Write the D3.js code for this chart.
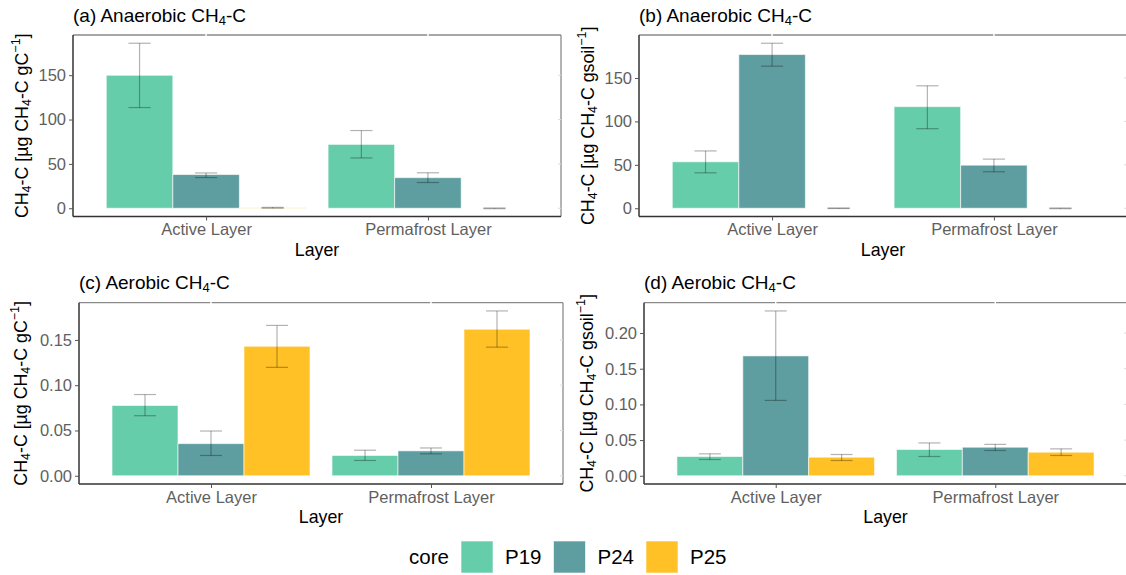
<!DOCTYPE html>
<html>
<head>
<meta charset="utf-8">
<script src="https://cdn.jsdelivr.net/npm/d3@7"></script>
<style>
  body { margin: 0; background: #fff; }
  text { font-family: "Liberation Sans", Arial, sans-serif; }
</style>
</head>
<body>
<div id="chart"></div>
<script>
// categories
var layers = ['Active Layer', 'Permafrost Layer'];
var cores = ['P19', 'P24', 'P25'];
var colors = ['#66CDAA', '#5F9EA0', '#FFC125'];

// (a) anaerobic, per gC  [layer][core]
var anaGcMean = [[149.9, 38.0, 0.5], [72.0, 34.5, 0.0]];
var anaGcLow  = [[113.5, 34.6, 0.0], [56.7, 29.0, -0.5]];
var anaGcHigh = [[186.0, 39.8, 1.0], [87.6, 40.0, 0.3]];

// (b) anaerobic, per gsoil
var anaGsMean = [[53.5, 177.0, 0.0], [117.0, 49.6, 0.0]];
var anaGsLow  = [[40.8, 163.6, -0.3], [91.6, 42.0, -0.5]];
var anaGsHigh = [[66.0, 190.0, 0.3], [141.0, 56.6, 0.3]];

// (c) aerobic, per gC
var aerGcMean = [[0.0776, 0.0355, 0.143], [0.0224, 0.0275, 0.1618]];
var aerGcLow  = [[0.0663, 0.0224, 0.1197], [0.0169, 0.0242, 0.142]];
var aerGcHigh = [[0.0897, 0.0494, 0.166], [0.0282, 0.0307, 0.182]];

// (d) aerobic, per gsoil
var aerGsMean = [[0.027, 0.168, 0.026], [0.0368, 0.040, 0.033]];
var aerGsLow  = [[0.0228, 0.1056, 0.0214], [0.027, 0.0354, 0.0284]];
var aerGsHigh = [[0.0307, 0.231, 0.0298], [0.046, 0.044, 0.0377]];

var anaTicks = [0, 50, 100, 150];
var aerGcTicks = [0, 0.05, 0.10, 0.15];
var aerGsTicks = [0, 0.05, 0.10, 0.15, 0.20];

var W = 1126, H = 575;

var svg = d3.select('#chart').append('svg')
    .attr('width', W)
    .attr('height', H);

var panels = [
    { title: '(a) Anaerobic ', unit: 'gC', box: { x: 73, y: 35, w: 488, h: 181.5 },
      mean: anaGcMean, low: anaGcLow, high: anaGcHigh, ticks: anaTicks, fmt: d3.format('d'), ylab: 22 },
    { title: '(b) Anaerobic ', unit: 'gsoil', box: { x: 639, y: 35, w: 488, h: 181.5 },
      mean: anaGsMean, low: anaGsLow, high: anaGsHigh, ticks: anaTicks, fmt: d3.format('d'), ylab: 588 },
    { title: '(c) Aerobic ', unit: 'gC', box: { x: 79, y: 302.7, w: 484, h: 181.3 },
      mean: aerGcMean, low: aerGcLow, high: aerGcHigh, ticks: aerGcTicks, fmt: d3.format('.2f'), ylab: 21 },
    { title: '(d) Aerobic ', unit: 'gsoil', box: { x: 644, y: 302.7, w: 483, h: 181.3 },
      mean: aerGsMean, low: aerGsLow, high: aerGsHigh, ticks: aerGsTicks, fmt: d3.format('.2f'), ylab: 587 }
];

panels.forEach(drawPanel);

function drawPanel(p) {
    var b = p.box;
    var g = svg.append('g').attr('transform', 'translate(' + b.x + ',' + b.y + ')');

    var rows = [];
    layers.forEach(function (l, i) {
        cores.forEach(function (c, j) {
            rows.push({ layer: l, core: c, ci: j, mean: p.mean[i][j], low: p.low[i][j], high: p.high[i][j] });
        });
    });

    var ymax = d3.max(rows, d => d.high);
    var y = d3.scaleLinear()
        .domain([-0.05 * ymax, 1.05 * ymax])
        .range([b.h, 0]);

    var x = d3.scalePoint()
        .domain(layers)
        .range([0, b.w])
        .padding(0.6);
    var step = x.step();

    var xs = d3.scaleBand()
        .domain(cores)
        .range([-0.45 * step, 0.45 * step]);

    // bars
    g.selectAll('.bar')
        .data(rows)
        .enter()
        .append('rect')
        .attr('class', 'bar')
        .attr('x', d => x(d.layer) + xs(d.core))
        .attr('width', xs.bandwidth())
        .attr('y', d => Math.min(y(d.mean), y(0)))
        .attr('height', d => Math.abs(y(0) - y(d.mean)))
        .attr('fill', d => colors[d.ci])
        .attr('stroke', 'rgba(255,255,255,0.6)')
        .attr('stroke-width', 1);

    // error bars
    var ew = 0.05 * step;
    var eb = g.selectAll('.err')
        .data(rows)
        .enter()
        .append('g')
        .attr('class', 'err')
        .attr('stroke', 'rgba(0,0,0,0.3)')
        .attr('stroke-width', 1.2)
        .attr('transform', d => 'translate(' + (x(d.layer) + xs(d.core) + xs.bandwidth() / 2) + ',0)');
    eb.append('line')
        .attr('y1', d => y(d.low)).attr('y2', d => y(d.high));
    eb.append('line')
        .attr('x1', -ew).attr('x2', ew)
        .attr('y1', d => y(d.low)).attr('y2', d => y(d.low));
    eb.append('line')
        .attr('x1', -ew).attr('x2', ew)
        .attr('y1', d => y(d.high)).attr('y2', d => y(d.high));

    // panel border: top/right lighter
    g.append('line').attr('x1', 0).attr('x2', b.w).attr('y1', 0).attr('y2', 0)
        .attr('stroke', '#8a8a8a').attr('stroke-width', 1.3);
    g.append('line').attr('x1', b.w).attr('x2', b.w).attr('y1', 0).attr('y2', b.h)
        .attr('stroke', '#8a8a8a').attr('stroke-width', 1.3);
    // small ticks on top and right
    g.selectAll('.rt').data(p.ticks).enter().append('line')
        .attr('x1', b.w - 3).attr('x2', b.w).attr('y1', d => y(d)).attr('y2', d => y(d))
        .attr('stroke', '#ddd');
    g.selectAll('.tt').data(layers).enter().append('line')
        .attr('x1', d => x(d)).attr('x2', d => x(d)).attr('y1', -1).attr('y2', 2)
        .attr('stroke', '#fff').attr('stroke-width', 1.5);

    // axes
    var yAxis = d3.axisLeft(y)
        .tickValues(p.ticks)
        .tickFormat(p.fmt)
        .tickSizeOuter(0)
        .tickSize(4)
        .tickPadding(3);
    var ya = g.append('g').attr('class', 'axis').call(yAxis);
    ya.select('.domain').attr('stroke', '#333').attr('stroke-width', 1.5)
        .attr('d', 'M0,0V' + b.h);
    ya.selectAll('.tick line').attr('stroke', '#555');
    ya.selectAll('.tick text').attr('fill', '#5f5f5f').style('font-size', '16.5px')
        .style('font-family', '"Liberation Sans", Arial, sans-serif');

    var xAxis = d3.axisBottom(x)
        .tickSizeOuter(0)
        .tickSize(4)
        .tickPadding(3);
    var xa = g.append('g').attr('class', 'axis')
        .attr('transform', 'translate(0,' + b.h + ')')
        .call(xAxis);
    xa.select('.domain').attr('stroke', '#333').attr('stroke-width', 1.5)
        .attr('d', 'M0,0H' + b.w);
    xa.selectAll('.tick line').attr('stroke', '#555');
    xa.selectAll('.tick text').attr('fill', '#5f5f5f').style('font-size', '16.5px')
        .style('font-family', '"Liberation Sans", Arial, sans-serif');

    // x title
    g.append('text')
        .attr('x', b.w / 2)
        .attr('y', b.h + 39)
        .attr('text-anchor', 'middle')
        .style('font-size', '17.8px')
        .attr('fill', '#000')
        .text('Layer');

    // panel title
    var t = svg.append('text')
        .attr('x', b.x)
        .attr('y', b.y - 13.5)
        .style('font-size', '19px')
        .attr('fill', '#000');
    t.append('tspan').text(p.title + 'CH');
    t.append('tspan').attr('baseline-shift', '-25%').style('font-size', '13px').text('4');
    t.append('tspan').text('-C');

    // y title
    var yt = svg.append('text')
        .attr('transform', 'translate(' + p.ylab + ',' + (b.y + b.h / 2) + ') rotate(-90)')
        .attr('text-anchor', 'middle')
        .attr('dy', '0.35em')
        .style('font-size', '17.8px')
        .attr('fill', '#000');
    yt.append('tspan').text('CH');
    yt.append('tspan').attr('baseline-shift', '-25%').style('font-size', '12.5px').text('4');
    yt.append('tspan').text('-C [µg CH');
    yt.append('tspan').attr('baseline-shift', '-25%').style('font-size', '12.5px').text('4');
    yt.append('tspan').text('-C ' + p.unit);
    yt.append('tspan').attr('baseline-shift', '60%').style('font-size', '12.5px').text('\u22121');
    yt.append('tspan').text(']');
}

// legend
var leg = svg.append('g').attr('transform', 'translate(0,557)');
leg.append('text')
    .attr('x', 409)
    .attr('dy', '0.35em')
    .style('font-size', '20.5px')
    .text('core');
var lx = d3.scalePoint().domain(cores).range([461, 646]);
var items = leg.selectAll('.li')
    .data(cores)
    .enter()
    .append('g')
    .attr('transform', d => 'translate(' + lx(d) + ',0)');
items.append('rect')
    .attr('y', -16)
    .attr('width', 32)
    .attr('height', 32)
    .attr('fill', (d, i) => colors[i])
    .attr('stroke', 'rgba(255,255,255,0.6)');
items.append('text')
    .attr('x', 44)
    .attr('dy', '0.35em')
    .style('font-size', '20.5px')
    .text(d => d);
</script>
</body>
</html>
